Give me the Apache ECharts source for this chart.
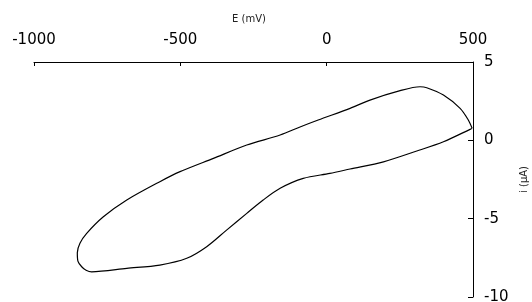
<!DOCTYPE html>
<html>
<head>
<meta charset="utf-8">
<script src="https://cdn.jsdelivr.net/npm/echarts@6/dist/echarts.min.js"></script>
<style>
  html, body { margin: 0; padding: 0; background: #fff; }
  #main { width: 532px; height: 302px; }
</style>
</head>
<body>
<div id="main"></div>
<script>
var potential = [497, 484, 456, 399, 342, 319, 251, 148, 80, -29, -89, -159, -273, -387, -501, -570, -683, -763, -820, -843, -852, -850, -837, -822, -803, -683, -570, -478, -410, -342, -273, -217, -159, -80, 11, 80, 194, 308, 399, 490, 497];
var current = [0.77, 1.30, 2.04, 2.89, 3.36, 3.42, 3.17, 2.57, 2.04, 1.30, 0.87, 0.34, -0.30, -1.15, -2.00, -2.64, -3.81, -4.88, -5.94, -6.57, -7.18, -7.71, -8.07, -8.29, -8.39, -8.17, -7.96, -7.53, -6.79, -5.73, -4.66, -3.81, -3.06, -2.43, -2.11, -1.83, -1.37, -0.68, -0.09, 0.70, 0.77];
var xTicks = [-1000, 500, 500]; // min, max, step
var yTicks = [-10, 5, 5];

var pts = [];
for (var i = 0; i < potential.length; i++) {
	pts.push([potential[i], current[i]]);
}

var myChart = echarts.init(document.getElementById('main'));
var font = 'DejaVu Sans';
myChart.setOption({
	animation: false,
	grid: {
		left: 34,
		right: 59,
		top: 62,
		bottom: 5,
		outerBoundsMode: 'none',
		containLabel: false
	},
	xAxis: {
		type: 'value',
		position: 'top',
		min: xTicks[0],
		max: xTicks[1],
		interval: xTicks[2],
		name: 'E (mV)',
		nameLocation: 'middle',
		nameGap: 38,
		nameTextStyle: { fontFamily: font, fontSize: 10, color: '#222', padding: [0, 9, 0, 0] },
		axisLine: { onZero: false, lineStyle: { color: '#000', width: 1 } },
		axisTick: { inside: true, length: 4, lineStyle: { color: '#000' } },
		axisLabel: {
			margin: 14, fontFamily: font, fontSize: 15, color: '#000',
			formatter: function(v) { return String(v); }
		},
		splitLine: { show: false }
	},
	yAxis: {
		type: 'value',
		position: 'right',
		min: yTicks[0],
		max: yTicks[1],
		interval: yTicks[2],
		name: 'i (µA)',
		nameLocation: 'middle',
		nameRotate: 90,
		nameGap: 46,
		nameTextStyle: { fontFamily: font, fontSize: 10, color: '#222' },
		axisLine: { show: true, onZero: false, lineStyle: { color: '#000', width: 1 } },
		axisTick: { show: true, inside: true, length: 5, lineStyle: { color: '#000' } },
		axisLabel: { margin: 11, fontFamily: font, fontSize: 15, color: '#000' },
		splitLine: { show: false }
	},
	series: [{
		type: 'line',
		data: pts,
		showSymbol: false,
		smooth: 0.3,
		lineStyle: { color: '#000', width: 1.2 }
	}]
});
</script>
</body>
</html>
